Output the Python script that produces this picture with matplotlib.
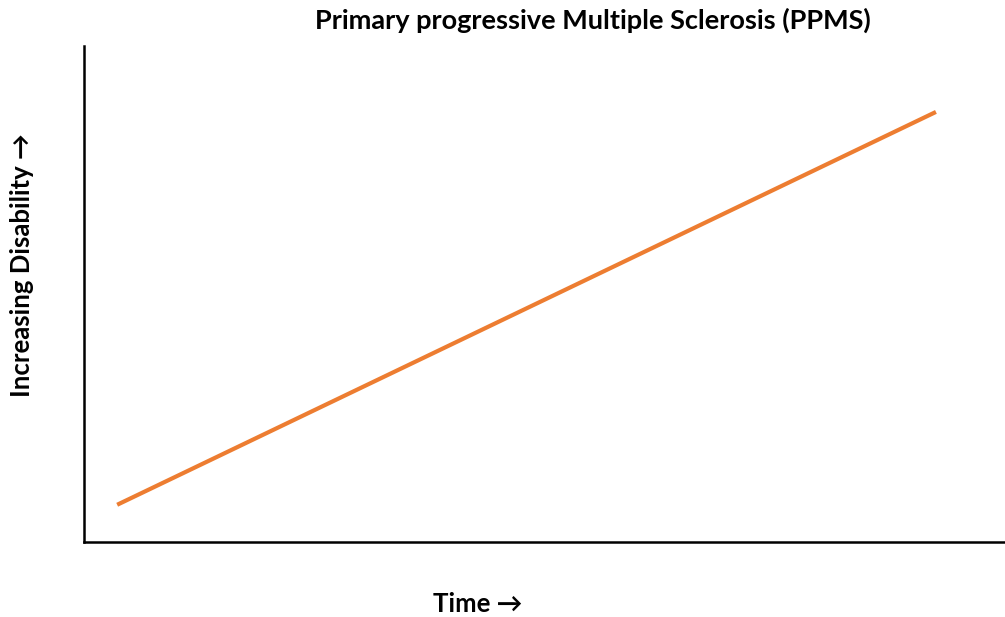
import matplotlib
matplotlib.use("Agg")
import matplotlib.pyplot as plt

# Disease course: disability rises steadily over time
time = [0.36, 9.25]
disability = [0.75, 8.67]

title = "Primary progressive Multiple Sclerosis (PPMS)"
xlabel = "Time \u2192"
ylabel = "Increasing Disability \u2192"

fonts = ["Lato", "DejaVu Sans"]

fig = plt.figure(figsize=(10.05, 6.17), dpi=100)
ax = fig.add_axes([0.0836, 0.1216, 0.9164, 0.8039])

ax.plot(time, disability, color="#ED7D31", linewidth=3.0, solid_capstyle="butt")

ax.set_xlim(0, 10)
ax.set_ylim(0, 10)
ax.set_xticks([])
ax.set_yticks([])
for side in ("top", "right"):
    ax.spines[side].set_visible(False)
for side in ("left", "bottom"):
    ax.spines[side].set_linewidth(1.8)
    ax.spines[side].set_color("black")

fig.text(593 / 1005, 1 - 20 / 617, title, ha="center", va="center",
         fontsize=19.5, fontweight="bold", family=fonts)
fig.text(478 / 1005, 1 - 604 / 617, xlabel, ha="center", va="center",
         fontsize=18.5, fontweight="bold", family=fonts)
fig.text(22 / 1005, 1 - 265 / 617, ylabel, ha="center", va="center",
         rotation=90, fontsize=18.5, fontweight="bold", family=fonts)

fig.savefig("out.png", dpi=100)
